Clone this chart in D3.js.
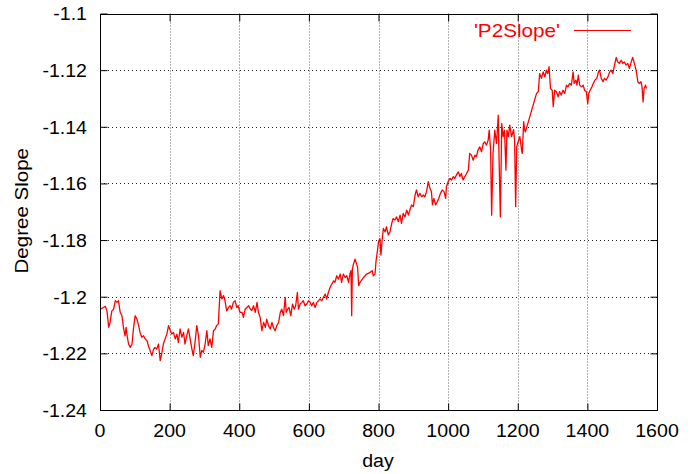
<!DOCTYPE html>
<html>
<head>
<meta charset="utf-8">
<script src="https://cdn.jsdelivr.net/npm/d3@7"></script>
<style>
  html, body { margin: 0; padding: 0; background: #fff; }
  svg { display: block; }
  text { font-family: "Liberation Sans", Arial, sans-serif; }
</style>
</head>
<body>
<svg id="chart" width="696" height="474"></svg>
<script>
// ---- data ----
const days = [
  1,10,15,20,25,29,34,39,44,49,53,58,63,68,72,75,78,82,87,92,96,101,106,111,115,120,125,130,135,139,144,149,154,158,163,168,173,178,182,187,192,197,202,206,211,216,221,225,230,235,240,244,249,254,259,264,268,273,278,283,288,292,297,302,307,311,316,321,326,331,335,340,342,345,350,355,359,364,369,374,378,383,388,393,397,402,
  408,412,417,422,427,432,436,441,446,451,455,460,465,470,475,479,484,489,494,498,503,508,513,518,522,527,532,535,539,543,548,553,558,562,567,570,575,580,584,589,594,599,604,608,613,618,623,628,632,637,642,647,651,656,661,666,671,675,680,685,690,694,699,704,709,714,718,721,723,725,728,733,737,740,743,747,757,766,776,782,785,790,793,797,800,
  804,807,810,814,819,823,828,833,838,842,847,852,857,862,866,871,876,881,886,890,895,900,905,909,914,919,924,929,933,938,943,948,952,955,959,964,969,973,978,983,988,993,995,1000,1005,1010,1015,1019,1024,1029,1034,1038,1043,1048,1053,1058,1062,1067,1072,1077,1081,1086,1091,1096,1101,1105,1110,1115,1118,1122,1125,1129,1134,1139,1144,1146,1150,1154,1158,1162,1166,1169,1173,1177,1182,1188,1191,1194,1197,1201,1206,1211,1213,1217,1220,1222,
  1254,1259,1263,1268,1273,1278,1282,1286,1290,1294,1299,1302,1306,1311,1316,1320,1325,1330,1335,1340,1344,1349,1354,1359,1362,1367,1370,1374,1378,1383,1388,1392,1397,1401,1404,1408,1413,1417,1422,1427,1432,1435,1440,1445,1449,1454,1459,1464,1468,1473,1478,1483,1487,1492,1497,1502,1506,1511,1516,1521,1526,1530,1535,1540,1545,1549,1554,1557,1560,1563,1567,1570
];
const slope = [
  -1.2044,-1.2038,-1.2034,-1.205,-1.2108,-1.209,-1.205,-1.2044,-1.2014,-1.202,-1.2014,-1.2055,-1.2067,-1.2114,-1.2138,-1.2108,-1.2138,-1.2167,-1.2179,-1.2167,-1.2114,-1.2067,-1.2079,-1.2102,-1.2126,-1.2143,-1.2138,-1.2149,-1.2155,-1.2173,-1.219,-1.2208,-1.2185,-1.2179,-1.2185,-1.2167,-1.2226,-1.2196,-1.2167,-1.2149,-1.2132,-1.2102,-1.212,-1.2132,-1.2126,-1.2149,-1.2132,-1.2161,-1.2114,-1.2143,-1.2126,-1.2167,-1.2138,-1.2114,-1.2149,-1.2185,-1.2208,-1.2161,-1.2102,-1.2138,-1.2214,-1.219,-1.2196,-1.2167,-1.212,-1.2173,-1.2149,-1.2179,-1.212,-1.2114,-1.2102,-1.2096,-1.2044,-1.1979,-1.2008,-1.1996,-1.2014,-1.205,-1.2038,-1.2032,-1.2044,-1.202,-1.2014,-1.2038,-1.2032,-1.2055,
  -1.2055,-1.2073,-1.2044,-1.2038,-1.2032,-1.2044,-1.2049,-1.2032,-1.2055,-1.202,-1.2055,-1.2073,-1.212,-1.2091,-1.2108,-1.2079,-1.2102,-1.2114,-1.2091,-1.2108,-1.212,-1.2102,-1.2091,-1.2055,-1.2044,-1.2067,-1.2002,-1.2055,-1.2044,-1.2038,-1.2067,-1.2026,-1.2044,-1.2032,-1.1985,-1.2044,-1.2026,-1.202,-1.2014,-1.2032,-1.2026,-1.2014,-1.202,-1.2032,-1.202,-1.2038,-1.202,-1.2014,-1.2008,-1.2014,-1.2002,-1.1991,-1.2008,-1.1985,-1.1967,-1.1955,-1.1944,-1.1949,-1.1926,-1.1938,-1.192,-1.1949,-1.192,-1.1932,-1.1926,-1.1949,-1.192,-1.1908,-1.2067,-1.1902,-1.1885,-1.1867,-1.1885,-1.1896,-1.1961,-1.1949,-1.1932,-1.192,-1.1914,-1.1908,-1.1926,-1.192,-1.1873,-1.1838,-1.1806,
  -1.1794,-1.1853,-1.1806,-1.1759,-1.1771,-1.1753,-1.1782,-1.1771,-1.1741,-1.1724,-1.1729,-1.1718,-1.1735,-1.1712,-1.1741,-1.1706,-1.1718,-1.1694,-1.1712,-1.1694,-1.1676,-1.1682,-1.1641,-1.1623,-1.1647,-1.1635,-1.1647,-1.1641,-1.1647,-1.1629,-1.1594,-1.1618,-1.1629,-1.1676,-1.1653,-1.1676,-1.1665,-1.1653,-1.1635,-1.1623,-1.1629,-1.1653,-1.1612,-1.1594,-1.1582,-1.1588,-1.1576,-1.1582,-1.157,-1.1559,-1.1576,-1.1565,-1.1588,-1.1576,-1.1565,-1.1553,-1.1494,-1.15,-1.1518,-1.15,-1.1506,-1.1482,-1.1471,-1.1488,-1.1459,-1.1453,-1.1465,-1.1447,-1.1412,-1.1482,-1.1712,-1.1494,-1.1412,-1.1459,-1.1359,-1.1494,-1.1718,-1.1388,-1.1435,-1.1412,-1.1553,-1.1412,-1.1435,-1.1394,-1.1435,-1.141,-1.1447,-1.1682,-1.1471,-1.1453,-1.1435,-1.1482,-1.1494,-1.1382,-1.1412,-1.1418,
  -1.1282,-1.1276,-1.1212,-1.1229,-1.1206,-1.1224,-1.12,-1.1212,-1.1188,-1.1265,-1.1271,-1.1329,-1.1271,-1.1276,-1.1294,-1.1276,-1.1288,-1.1271,-1.1282,-1.1253,-1.1259,-1.1247,-1.1253,-1.1206,-1.1247,-1.1235,-1.1253,-1.1218,-1.1253,-1.1259,-1.1253,-1.1271,-1.1276,-1.1318,-1.1282,-1.1271,-1.1259,-1.1247,-1.1235,-1.1229,-1.1206,-1.12,-1.1229,-1.1241,-1.1229,-1.1235,-1.1224,-1.1206,-1.12,-1.1212,-1.1182,-1.1155,-1.1171,-1.1176,-1.1165,-1.1176,-1.1171,-1.1182,-1.1176,-1.1194,-1.1171,-1.1155,-1.1176,-1.12,-1.1241,-1.1247,-1.1241,-1.1259,-1.1312,-1.1265,-1.1253,-1.1265
];
const xTicks = [0, 200, 400, 600, 800, 1000, 1200, 1400, 1600];
const yTicks = [-1.24, -1.22, -1.2, -1.18, -1.16, -1.14, -1.12, -1.1];
const yTickLabels = ["-1.24", "-1.22", "-1.2", "-1.18", "-1.16", "-1.14", "-1.12", "-1.1"];
const seriesName = "'P2Slope'";
const xTitle = "day";
const yTitle = "Degree Slope";

// ---- layout ----
const L = 100, R = 657, T = 13.5, B = 410;
const SX = 1.0875, SY = 0.9875; // horizontal stretch of the reference's lettering
const svg = d3.select("#chart");
const x = d3.scaleLinear().domain([0, 1600]).range([L, R]);
const y = d3.scaleLinear().domain([-1.24, -1.1]).range([B, T]);
const px = v => Math.round(v) + 0.5;

// grid
const grid = svg.append("g");
grid.selectAll("line.h").data(yTicks.slice(1, -1)).enter().append("line")
  .attr("x1", L).attr("x2", R)
  .attr("y1", d => px(y(d))).attr("y2", d => px(y(d)))
  .attr("stroke", "#222").attr("stroke-width", 1).attr("stroke-dasharray", "1,3");
grid.selectAll("line.v").data(xTicks.slice(1, -1)).enter().append("line")
  .attr("y1", T).attr("y2", B)
  .attr("x1", d => px(x(d))).attr("x2", d => px(x(d)))
  .attr("stroke", "#666").attr("stroke-width", 1).attr("stroke-dasharray", "1,2");

// series line
const line = d3.line().x((d, i) => x(days[i])).y(d => y(d));
svg.append("path").datum(slope)
  .attr("d", line)
  .attr("fill", "none").attr("stroke", "#ff0000").attr("stroke-width", 1.3)
  .attr("stroke-linejoin", "round");

// axes using d3 axis generators (inward ticks, mirrored)
function styleAxis(g) {
  g.select(".domain").remove();
  g.selectAll(".tick line").attr("stroke", "#000").attr("stroke-width", 1);
  g.selectAll(".tick text").remove();
}
svg.append("g").attr("transform", `translate(0,${px(B)})`)
  .call(d3.axisBottom(x).tickValues(xTicks).tickSize(-7).tickFormat(""))
  .call(styleAxis);
svg.append("g").attr("transform", `translate(0,${px(T)})`)
  .call(d3.axisTop(x).tickValues(xTicks).tickSize(-7).tickFormat(""))
  .call(styleAxis);
svg.append("g").attr("transform", `translate(${px(L)},0)`)
  .call(d3.axisLeft(y).tickValues(yTicks).tickSize(-7).tickFormat(""))
  .call(styleAxis);
svg.append("g").attr("transform", `translate(${px(R)},0)`)
  .call(d3.axisRight(y).tickValues(yTicks).tickSize(-7).tickFormat(""))
  .call(styleAxis);

// frame
svg.append("rect")
  .attr("x", px(L)).attr("y", px(T))
  .attr("width", Math.round(R) - Math.round(L)).attr("height", Math.round(B) - Math.round(T))
  .attr("fill", "none").attr("stroke", "#000").attr("stroke-width", 1);

// tick labels
svg.selectAll("text.xt").data(xTicks).enter().append("text")
  .attr("transform", d => `translate(${x(d)},437) scale(${SX},${SY})`)
  .attr("text-anchor", "middle").attr("font-size", 18).attr("fill", "#000")
  .text(d => d);
svg.selectAll("text.yt").data(yTicks).enter().append("text")
  .attr("transform", d => `translate(87,${y(d) + 6.8}) scale(${SX},${SY})`)
  .attr("text-anchor", "end").attr("font-size", 18).attr("fill", "#000")
  .text((d, i) => yTickLabels[i]);

// axis titles
svg.append("text")
  .attr("transform", `translate(378,467) scale(${SX},${SY})`)
  .attr("text-anchor", "middle").attr("font-size", 18).attr("fill", "#000")
  .text(xTitle);
svg.append("text")
  .attr("transform", `translate(28,${(T + B) / 2 - 1}) rotate(-90) scale(1.14,1.05)`)
  .attr("text-anchor", "middle").attr("font-size", 18).attr("fill", "#000")
  .text(yTitle);

// legend
svg.append("text")
  .attr("transform", `translate(560,37) scale(1.15,${SY})`)
  .attr("text-anchor", "end").attr("font-size", 18).attr("fill", "#ff0000")
  .text(seriesName);
svg.append("line")
  .attr("x1", 574).attr("x2", 631).attr("y1", 30.5).attr("y2", 30.5)
  .attr("stroke", "#ff0000").attr("stroke-width", 1);
</script>
</body>
</html>
